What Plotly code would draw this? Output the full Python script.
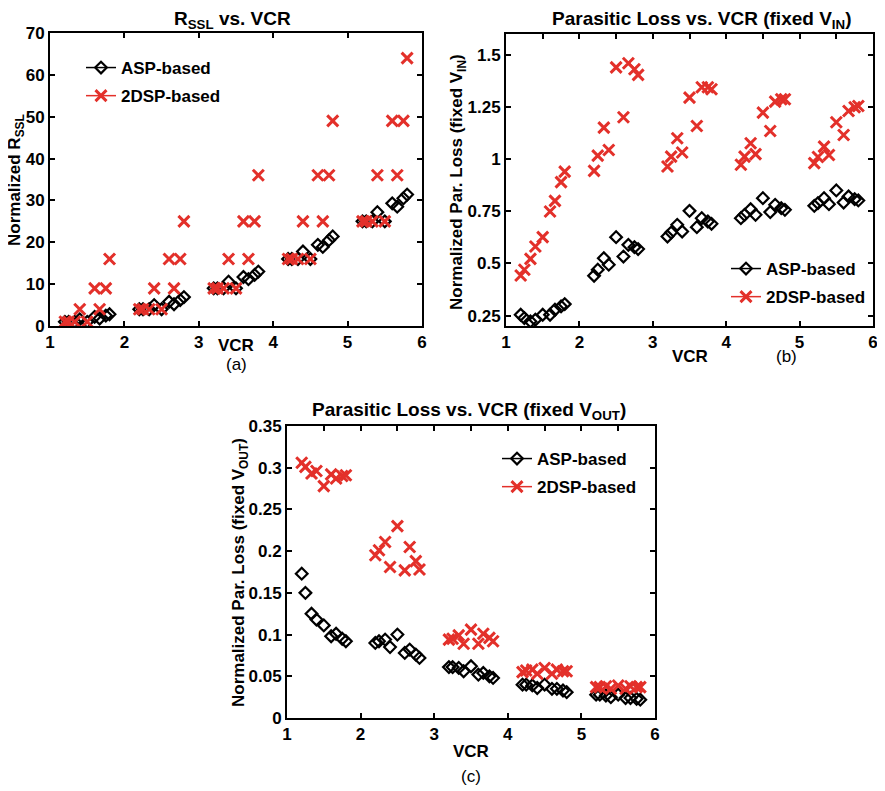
import plotly.graph_objects as go

# The page places the figure 8 px in from the top-left corner of the window,
# so the figure is drawn 8 px smaller and reference positions are shifted.
OFF = 8
W, H = 885 - OFF, 791 - OFF

# ---------------- data ----------------
vcr = [1.2, 1.25, 1.333, 1.4, 1.5, 1.6, 1.667, 1.75, 1.8,
       2.2, 2.25, 2.333, 2.4, 2.5, 2.6, 2.667, 2.75, 2.8,
       3.2, 3.25, 3.333, 3.4, 3.5, 3.6, 3.667, 3.75, 3.8,
       4.2, 4.25, 4.333, 4.4, 4.5, 4.6, 4.667, 4.75, 4.8,
       5.2, 5.25, 5.333, 5.4, 5.5, 5.6, 5.667, 5.75, 5.8]

rssl_asp = [1, 1, 1, 1.6, 1, 2.2, 1.8, 2.5, 2.8,
            4, 4, 4, 5.0, 4, 5.8, 5.2, 6.2, 6.9,
            9, 9, 9, 10.6, 9, 11.7, 11.2, 12.2, 13.0,
            16, 16, 16, 17.8, 16, 19.4, 18.9, 20.5, 21.4,
            25, 25, 25, 27.2, 25, 29.3, 28.5, 30.5, 31.4]
rssl_2dsp = [1, 1, 1, 4, 1, 9, 4, 9, 16,
             4, 4, 4, 9, 4, 16, 9, 16, 25,
             9, 9, 9, 16, 9, 25, 16, 25, 36,
             16, 16, 16, 25, 16, 36, 25, 36, 49,
             25, 25, 25, 36, 25, 49, 36, 49, 64]

vin_asp = [0.254, 0.238, 0.222, 0.230, 0.254, 0.254, 0.278, 0.294, 0.305,
           0.441, 0.470, 0.525, 0.494, 0.626, 0.533, 0.589, 0.578, 0.569,
           0.629, 0.648, 0.685, 0.653, 0.752, 0.674, 0.717, 0.701, 0.690,
           0.717, 0.733, 0.760, 0.733, 0.813, 0.746, 0.781, 0.765, 0.757,
           0.776, 0.789, 0.813, 0.784, 0.850, 0.792, 0.821, 0.808, 0.802]
vin_2dsp = [0.442, 0.470, 0.522, 0.581, 0.626, 0.749, 0.800, 0.890, 0.940,
            0.944, 1.017, 1.151, 1.044, 1.440, 1.201, 1.460, 1.431, 1.404,
            0.965, 1.012, 1.100, 1.032, 1.295, 1.159, 1.345, 1.345, 1.335,
            0.973, 1.012, 1.076, 1.024, 1.223, 1.135, 1.276, 1.287, 1.287,
            0.981, 1.010, 1.060, 1.020, 1.177, 1.116, 1.231, 1.249, 1.255]

vout_asp = [0.173, 0.150, 0.125, 0.118, 0.111, 0.098, 0.101, 0.095, 0.092,
            0.090, 0.092, 0.094, 0.085, 0.100, 0.078, 0.082, 0.076, 0.072,
            0.061, 0.061, 0.060, 0.056, 0.062, 0.052, 0.054, 0.050, 0.048,
            0.040, 0.040, 0.039, 0.036, 0.040, 0.035, 0.035, 0.033, 0.031,
            0.028, 0.028, 0.027, 0.025, 0.028, 0.024, 0.024, 0.023, 0.022]
vout_2dsp = [0.306, 0.301, 0.293, 0.296, 0.278, 0.292, 0.287, 0.290, 0.291,
             0.195, 0.201, 0.211, 0.181, 0.230, 0.177, 0.205, 0.188, 0.178,
             0.094, 0.095, 0.099, 0.089, 0.106, 0.089, 0.101, 0.096, 0.092,
             0.055, 0.057, 0.058, 0.053, 0.060, 0.053, 0.058, 0.056, 0.056,
             0.037, 0.037, 0.038, 0.035, 0.039, 0.035, 0.038, 0.037, 0.037]

series_names = ["ASP-based", "2DSP-based"]
x_ticks = [1, 2, 3, 4, 5, 6]
ya_ticks = [0, 10, 20, 30, 40, 50, 60, 70]
yb_ticks = [0.25, 0.5, 0.75, 1, 1.25, 1.5]
yb_labels = ["0.25", "0.5", "0.75", "1", "1.25", "1.5"]
yc_ticks = [0, 0.05, 0.1, 0.15, 0.2, 0.25, 0.3, 0.35]
yc_labels = ["0", "0.05", "0.1", "0.15", "0.2", "0.25", "0.3", "0.35"]

# ---------------- style ----------------
FONT = "Liberation Sans, Arial, Helvetica, sans-serif"
BLACK = "#000000"
RED = "#e3302a"


def fx(px):
    return (px - OFF) / W


def fy(py):
    return 1 - (py - OFF) / H


asp_marker = dict(symbol="diamond-open", size=9, color=BLACK, line=dict(width=2.2, color=BLACK))
dsp_marker = dict(symbol="x-thin-open", size=11, color=RED, line=dict(width=3, color=RED))

fig = go.Figure()

panels = [("x", "y", rssl_asp, rssl_2dsp, "legend"),
          ("x2", "y2", vin_asp, vin_2dsp, "legend2"),
          ("x3", "y3", vout_asp, vout_2dsp, "legend3")]

for xa, ya, asp, dsp, leg in panels:
    fig.add_trace(go.Scatter(x=vcr, y=asp, mode="markers", marker=asp_marker,
                             xaxis=xa, yaxis=ya, showlegend=False, name=series_names[0]))
    fig.add_trace(go.Scatter(x=vcr, y=dsp, mode="markers", marker=dsp_marker,
                             xaxis=xa, yaxis=ya, showlegend=False, name=series_names[1]))
    # legend entries (line + marker symbol as in the original)
    fig.add_trace(go.Scatter(x=[None], y=[None], mode="lines+markers", marker=asp_marker,
                             line=dict(color=BLACK, width=1.5), xaxis=xa, yaxis=ya,
                             name=series_names[0], legend=leg, legendgroup=leg + "a"))
    fig.add_trace(go.Scatter(x=[None], y=[None], mode="lines+markers", marker=dsp_marker,
                             line=dict(color=RED, width=1.5), xaxis=xa, yaxis=ya,
                             name=series_names[1], legend=leg, legendgroup=leg + "b"))

tickfont = dict(family=FONT, size=17, color=BLACK, weight="bold")

common_x = dict(range=[1, 6], tickvals=x_ticks, ticks="inside", ticklen=5, tickwidth=1.5,
                showline=True, linewidth=2, linecolor=BLACK, tickcolor=BLACK,
                showgrid=False, zeroline=False, tickfont=tickfont, fixedrange=True)
common_y = dict(ticks="inside", ticklen=5, tickwidth=1.5, showline=True, linewidth=2,
                linecolor=BLACK, tickcolor=BLACK, showgrid=False, zeroline=False,
                tickfont=tickfont, mirror="ticks", fixedrange=True)

dom_a_x = [fx(50), fx(422)]
dom_a_y = [fy(326), fy(33)]
dom_b_x = [fx(506), fx(873)]
dom_b_y = [fy(326), fy(34)]
dom_c_x = [fx(287), fx(655)]
dom_c_y = [fy(718), fy(426)]

legend_common = dict(font=dict(family=FONT, size=17, color=BLACK, weight="bold"),
                     bgcolor="rgba(0,0,0,0)", borderwidth=0, tracegroupgap=3,
                     xanchor="left", yanchor="top")

fig.update_layout(
    width=W, height=H, margin=dict(l=0, r=0, t=0, b=0, autoexpand=False),
    paper_bgcolor="white", plot_bgcolor="white",
    showlegend=True,
    xaxis=dict(common_x, domain=dom_a_x, anchor="y", mirror="ticks"),
    yaxis=dict(common_y, domain=dom_a_y, anchor="x", range=[0, 70], tickvals=ya_ticks),
    xaxis2=dict(common_x, domain=dom_b_x, anchor="y2", mirror=True),
    yaxis2=dict(common_y, domain=dom_b_y, anchor="x2", range=[0.2, 1.6],
                tickvals=yb_ticks, ticktext=yb_labels),
    xaxis3=dict(common_x, domain=dom_c_x, anchor="y3", mirror=True),
    yaxis3=dict(common_y, domain=dom_c_y, anchor="x3", range=[0, 0.35],
                tickvals=yc_ticks, ticktext=yc_labels),
    xaxis4=dict(range=[1, 6], overlaying="x2", anchor="y2", side="top", dtick=0.5, tick0=1,
                ticks="inside", ticklen=5, tickwidth=1.5, tickcolor=BLACK,
                showticklabels=False, showline=False, showgrid=False, zeroline=False,
                fixedrange=True),
    xaxis5=dict(range=[1, 6], overlaying="x3", anchor="y3", side="top", dtick=0.5, tick0=1,
                ticks="inside", ticklen=5, tickwidth=1.5, tickcolor=BLACK,
                showticklabels=False, showline=False, showgrid=False, zeroline=False,
                fixedrange=True),
    legend=dict(legend_common, x=fx(81), y=fy(50)),
    legend2=dict(legend_common, x=fx(726), y=fy(251)),
    legend3=dict(legend_common, x=fx(497), y=fy(441)),
)

# empty traces to attach the top (half-step) tick axes
fig.add_trace(go.Scatter(x=[], y=[], xaxis="x4", yaxis="y2", showlegend=False, hoverinfo="skip"))
fig.add_trace(go.Scatter(x=[], y=[], xaxis="x5", yaxis="y3", showlegend=False, hoverinfo="skip"))

bold = dict(family=FONT, color=BLACK, weight="bold")


def label(text, px, py, size, angle=0, b=True):
    f = dict(bold, size=size) if b else dict(family=FONT, color=BLACK, size=size)
    fig.add_annotation(text=text, x=fx(px), y=fy(py), xref="paper", yref="paper",
                       showarrow=False, xanchor="center", yanchor="middle",
                       textangle=angle, font=f, borderpad=0)


# titles
label("R<sub>SSL</sub> vs. VCR", 232, 20, 19)
label("Parasitic Loss vs. VCR (fixed V<sub>IN</sub>)", 701, 20, 19)
label("Parasitic Loss vs. VCR (fixed V<sub>OUT</sub>)", 469, 411, 19)
# x titles
label("VCR", 236, 346, 17)
label("VCR", 690, 356, 17)
label("VCR", 471, 751, 17)
# y titles
label("Normalized R<sub>SSL</sub>", 16, 180, 17, -90)
label("Normalized Par. Loss (fixed V<sub>IN</sub>)", 458, 182, 17, -90)
label("Normalized Par. Loss (fixed V<sub>OUT</sub>)", 240, 572, 17, -90)
# panel tags
label("(a)", 236, 364, 17, b=False)
label("(b)", 786, 356, 17, b=False)
label("(c)", 471, 776, 17, b=False)

fig.write_html("out.html")
